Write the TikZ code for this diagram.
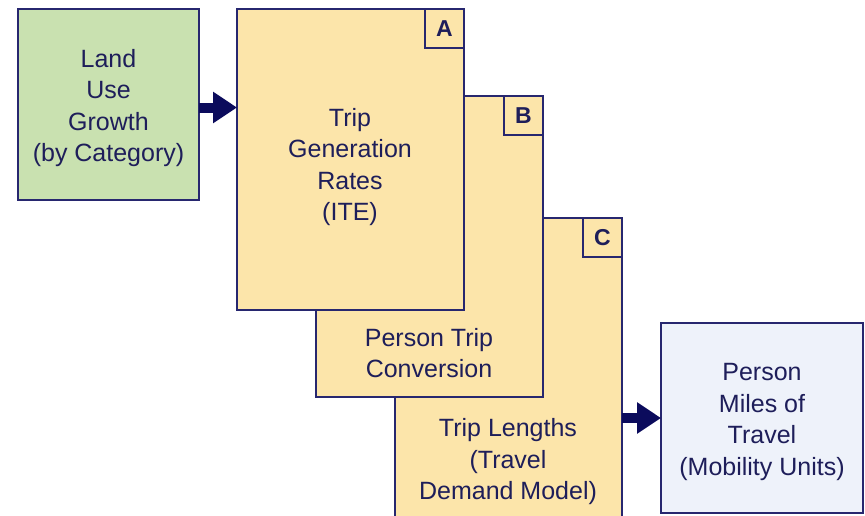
\documentclass[tikz,border=0pt]{standalone}
\usepackage{fontspec}
\setmainfont{Liberation Sans}
\usetikzlibrary{arrows.meta}
\definecolor{navy}{HTML}{27276F}
\definecolor{arrowblue}{HTML}{0B0B5C}
\definecolor{greenfill}{HTML}{C9E1B0}
\definecolor{yellowfill}{HTML}{FCE5AA}
\definecolor{bluefill}{HTML}{EEF2FA}
\definecolor{textblue}{HTML}{1E1E5A}
\begin{document}
\begin{tikzpicture}[x=1pt,y=-1pt,
  box/.style={draw=navy, line width=2pt, anchor=north west, inner sep=0pt, outer sep=0pt},
  tag/.style={box, anchor=north east, minimum width=39pt, minimum height=39pt, fill=yellowfill, font=\fontsize{23}{23}\selectfont\bfseries, text=textblue},
  txt/.style={align=center, font=\fontsize{25}{31.5}\selectfont, text=textblue},
  flow/.style={draw=arrowblue, line width=10pt, -{Triangle[length=24pt,width=30pt]}}]
\useasboundingbox (0,0) rectangle (865,515);
\fill[white] (0,0) rectangle (865,515);
% boxes
\node[box, fill=greenfill, minimum width=181pt, minimum height=191pt] (land) at (18,9) {};
\node[box, fill=yellowfill, minimum width=227pt, minimum height=301pt] (C) at (395,218) {};
\node[tag] (tagC) at (C.north east) {C};
\node[box, fill=yellowfill, minimum width=227pt, minimum height=301pt] (B) at (316,96) {};
\node[tag] (tagB) at (B.north east) {B};
\node[box, fill=yellowfill, minimum width=227pt, minimum height=301pt] (A) at (237,9) {};
\node[tag] (tagA) at (A.north east) {A};
\node[box, fill=bluefill, minimum width=202pt, minimum height=190pt] (pmt) at (661,323) {};
% texts
\node[txt] (tland) at ([yshift=-3.5pt]land.center) {Land\\Use\\Growth\\(by Category)};
\node[txt] (tA) at (350,167) {Trip\\Generation\\Rates\\(ITE)};
\node[txt] (tB) at (429,353) {Person Trip\\Conversion};
\node[txt] (tC) at (508,462) {Trip Lengths\\(Travel\\Demand Model)};
\node[txt] (tpmt) at ([yshift=-4pt]pmt.center) {Person\\Miles of\\Travel\\(Mobility Units)};
% arrows
\draw[flow] ([yshift=-3pt]land.east) -- ([yshift=-3pt]land.east -| A.west);
\draw[flow] (pmt.west -| C.east) -- (pmt.west);
\end{tikzpicture}
\end{document}
